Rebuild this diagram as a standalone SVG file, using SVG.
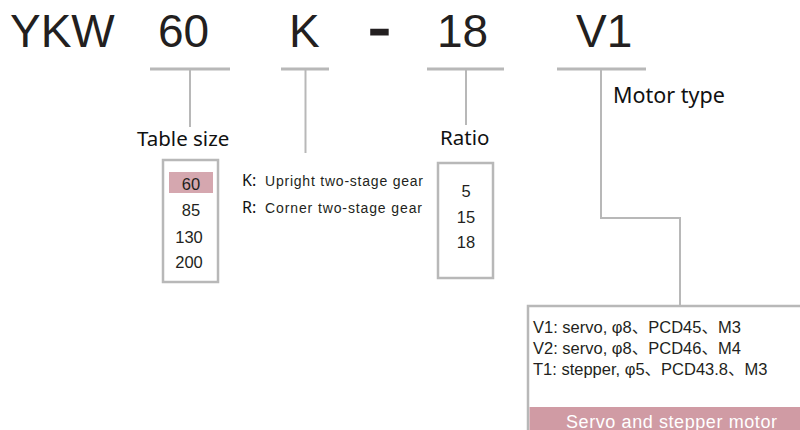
<svg xmlns="http://www.w3.org/2000/svg" width="800" height="430" viewBox="0 0 800 430">
<style>
.big{font-family:"Liberation Sans",Arial,sans-serif;font-size:46px;fill:#231f20}
.lbl{font-family:"Noto Sans","Open Sans",sans-serif;font-size:20.5px;fill:#111}
.num{font-family:"Liberation Sans",Arial,sans-serif;font-size:16.5px;fill:#231f20;text-anchor:middle}
.opt{font-family:"Liberation Sans",Arial,sans-serif;font-size:14px;fill:#231f20}
.key{font-family:"Noto Sans","Open Sans",sans-serif;font-size:16px;fill:#111}
.mt{font-family:"Liberation Sans",Arial,"Noto Sans CJK SC",sans-serif;font-size:16.5px;fill:#231f20}
.bar{stroke:#b8b8b8;stroke-width:3.2;fill:none}
.ln{stroke:#b8b8b8;stroke-width:2;fill:none}
.box{stroke:#b8b8b8;stroke-width:2.5;fill:#fff}
</style>
<rect width="800" height="430" fill="#fff"/>
<g id="code">
<text class="big" x="10" y="47">YKW</text>
<text class="big" x="158" y="47">60</text>
<text class="big" x="289" y="47">K</text>
<text class="big" transform="translate(369.4,45.2) scale(1.3,1)" x="0" y="0" style="stroke:#231f20;stroke-width:3">-</text>
<text class="big" x="437" y="47">18</text>
<text class="big" x="576" y="47">V1</text>
</g>
<g id="connectors">
<line class="bar" x1="150" y1="69" x2="230" y2="69"/>
<line class="bar" x1="281" y1="69" x2="329" y2="69"/>
<line class="bar" x1="427" y1="69" x2="504" y2="69"/>
<line class="bar" x1="557" y1="69" x2="646" y2="69"/>
<line class="ln" x1="190" y1="69" x2="190" y2="127"/>
<line class="ln" x1="305.5" y1="69" x2="305.5" y2="153"/>
<line class="ln" x1="466" y1="69" x2="466" y2="125"/>
<polyline class="ln" points="601,69 601,218 680,218 680,306"/>
</g>
<g id="table-size">
<text class="lbl" x="137" y="146">Table size</text>
<rect class="box" x="163" y="160" width="55" height="122"/>
<rect x="169" y="172" width="44" height="21" fill="#d5a7af"/>
<text class="num" x="191" y="190">60</text>
<text class="num" x="191" y="216">85</text>
<text class="num" x="189" y="243">130</text>
<text class="num" x="189" y="268">200</text>
</g>
<g id="gear-type">
<text class="key" x="242" y="186">K:</text>
<text class="opt" x="265" y="186" textLength="158" lengthAdjust="spacing">Upright two-stage gear</text>
<text class="key" x="242" y="213">R:</text>
<text class="opt" x="265" y="213" textLength="157" lengthAdjust="spacing">Corner two-stage gear</text>
</g>
<g id="ratio">
<text class="lbl" x="440" y="145">Ratio</text>
<rect class="box" x="438" y="163" width="55" height="115"/>
<text class="num" x="466" y="197">5</text>
<text class="num" x="466" y="223">15</text>
<text class="num" x="466" y="248">18</text>
</g>
<g id="motor-type">
<text class="lbl" x="613" y="103" style="font-size:21.5px">Motor type</text>
<rect class="box" x="528" y="306" width="290" height="140"/>
<text class="mt" x="533" y="333">V1: servo, φ8、PCD45、M3</text>
<text class="mt" x="533" y="354">V2: servo, φ8、PCD46、M4</text>
<text class="mt" x="533" y="375">T1: stepper, φ5、PCD43.8、M3</text>
<rect x="529.5" y="407" width="280" height="30" fill="#d09ba4"/>
<text x="566" y="427.5" textLength="211" lengthAdjust="spacing" style="font-family:'Liberation Sans',Arial,sans-serif;font-size:18px;fill:#fff">Servo and stepper motor</text>
</g>
</svg>
